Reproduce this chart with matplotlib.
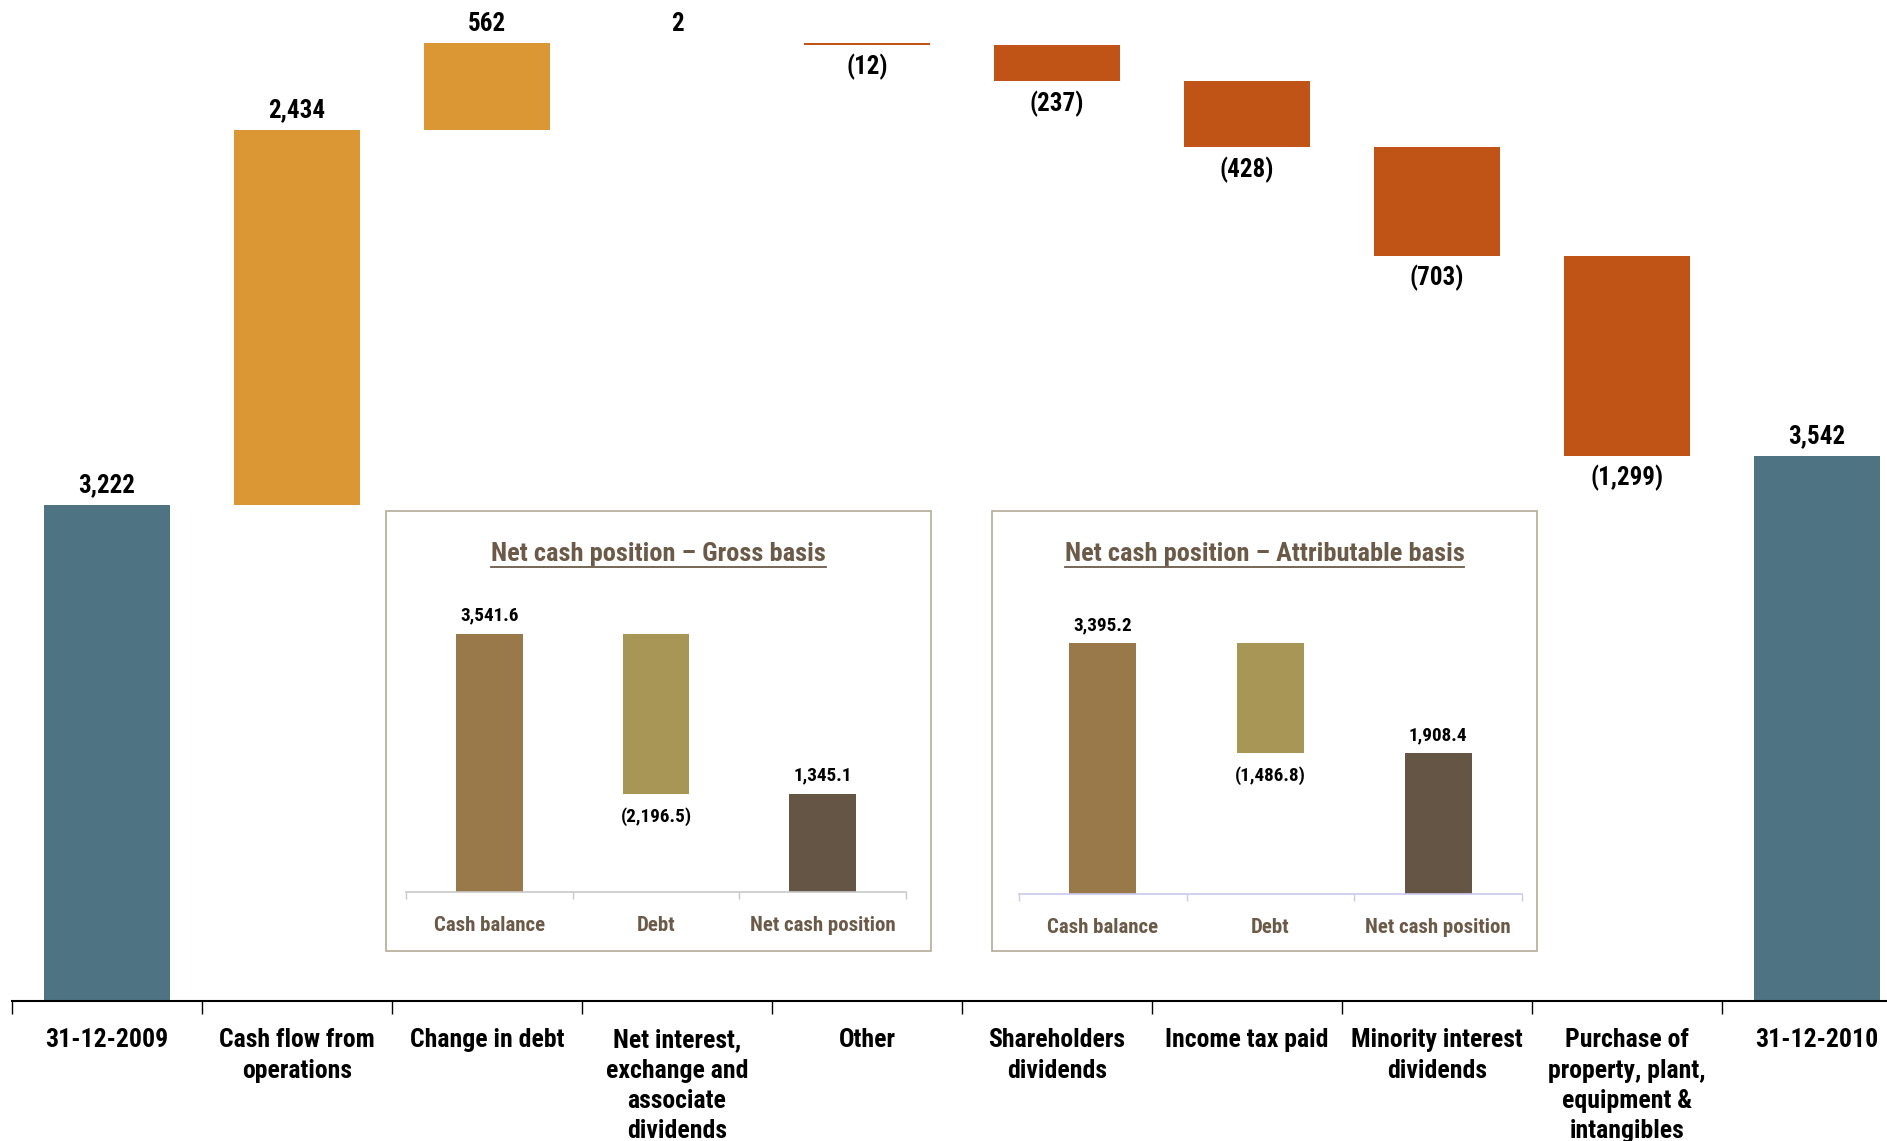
import matplotlib
matplotlib.use("Agg")
import matplotlib.pyplot as plt
from matplotlib import font_manager
from matplotlib.patches import Rectangle

# ---- data -------------------------------------------------------------
categories = [
    "31-12-2009", "Cash flow from\noperations", "Change in debt",
    "Net interest,\nexchange and\nassociate\ndividends", "Other",
    "Shareholders\ndividends", "Income tax paid", "Minority interest\ndividends",
    "Purchase of\nproperty, plant,\nequipment &\nintangibles", "31-12-2010",
]
values = [3222, 2434, 562, 2, -12, -237, -428, -703, -1299, 3542]
kinds = ["total", "delta", "delta", "delta", "delta",
         "delta", "delta", "delta", "delta", "total"]

inset_cats = ["Cash balance", "Debt", "Net cash position"]
gross_values = [3541.6, -2196.5, 1345.1]
attrib_values = [3395.2, -1486.8, 1908.4]
gross_title = "Net cash position \u2013 Gross basis"
attrib_title = "Net cash position \u2013 Attributable basis"

# ---- font: prefer a narrow bold face ----------------------------------
entries = font_manager.fontManager.ttflist
names = {f.name for f in entries}
family = None
stretch = "normal"
for cand in ["Liberation Sans Narrow", "Roboto Condensed", "Open Sans Condensed",
             "Noto Sans Condensed", "DejaVu Sans Condensed", "Arial Narrow"]:
    if cand in names:
        family = cand
        break
if family is None:
    for f in entries:
        if str(f.stretch) in ("condensed", "semi-condensed", "extra-condensed") or \
                (isinstance(f.stretch, int) and f.stretch < 500):
            family, stretch = f.name, "condensed"
            break
narrow = family is not None
if family is None:
    family = "Roboto" if "Roboto" in names else "DejaVu Sans"

plt.rcParams["font.family"] = [family, "DejaVu Sans"]
plt.rcParams["font.weight"] = "bold"
plt.rcParams["font.stretch"] = stretch

# sizes tuned to the face that was found
k = 1.0 if narrow else 0.86
FS_MAIN = 18 * k
FS_TICK = 18.5 * k
FS_INSET = 13.8 * k
FS_ITICK = 15 * k
FS_ITITLE = 19 * k

C_TOTAL = "#4E7383"
C_POS = "#DB9733"
C_NEG = "#C05416"
C_INSET = ["#99784A", "#A89657", "#645544"]
C_INSET_TEXT = "#6B5A48"

W, H = 1887, 1141
fig = plt.figure(figsize=(W / 100, H / 100), dpi=100)


def fx(px):
    return px / W


def fy(px_from_top):
    return 1 - px_from_top / H


def fmt(v, dec=0):
    s = f"{abs(v):,.{dec}f}"
    return f"({s})" if v < 0 else s


# ---- main waterfall ---------------------------------------------------
ax = fig.add_axes([fx(12), fy(1001), fx(1900), 1001 / H])
ax.set_xlim(-0.5, 9.5)
ax.set_ylim(0, 6500)

running = 0
for i, (v, kind) in enumerate(zip(values, kinds)):
    if kind == "total":
        bottom, height, color = 0, v, C_TOTAL
        running = v
    else:
        if v >= 0:
            bottom, height, color = running, v, C_POS
        else:
            bottom, height, color = running + v, -v, C_NEG
        running += v
    ax.bar(i, height, bottom=bottom, width=0.66, color=color, linewidth=0)
    if v >= 0:
        ax.annotate(fmt(v), (i, bottom + height), xytext=(0, 14), textcoords="offset points",
                    ha="center", va="center", fontsize=FS_MAIN, fontweight="bold", color="black")
    else:
        ax.annotate(fmt(v), (i, bottom), xytext=(0, -16), textcoords="offset points",
                    ha="center", va="center", fontsize=FS_MAIN, fontweight="bold", color="black")

for s in ["top", "right", "left"]:
    ax.spines[s].set_visible(False)
ax.spines["bottom"].set_linewidth(1.5)
ax.set_yticks([])
ax.set_xticks(range(len(categories)))
ax.set_xticklabels(categories, fontsize=FS_TICK, fontweight="bold", linespacing=1.34, va="top")
ax.tick_params(axis="x", which="major", length=0, pad=19.5)
ax.set_xticks([i - 0.5 for i in range(len(categories) + 1)], minor=True)
ax.tick_params(axis="x", which="minor", length=9, width=1, direction="out")
ax.patch.set_alpha(0)


# ---- inset panels -----------------------------------------------------
def draw_inset(box, axis_span, baseline, scale, title, vals, axis_color):
    bx0, by0, bx1, by1 = box
    fig.patches.append(Rectangle((fx(bx0), fy(by1)), fx(bx1 - bx0), (by1 - by0) / H,
                                 transform=fig.transFigure, facecolor="white",
                                 edgecolor="#B5AC96", linewidth=1.2, zorder=2))
    ax0, ax1 = axis_span
    ylim_top = 5000
    hpx = ylim_top * scale
    iax = fig.add_axes([fx(ax0), fy(baseline), fx(ax1 - ax0), hpx / H], zorder=3)
    iax.patch.set_alpha(0)
    iax.set_xlim(-0.5, 2.5)
    iax.set_ylim(0, ylim_top)
    start, debt, net = vals
    iax.bar(0, start, width=0.4, color=C_INSET[0], linewidth=0)
    iax.bar(1, -debt, bottom=net, width=0.4, color=C_INSET[1], linewidth=0)
    iax.bar(2, net, width=0.4, color=C_INSET[2], linewidth=0)
    iax.annotate(fmt(start, 1), (0, start), xytext=(0, 13), textcoords="offset points",
                 ha="center", va="center", fontsize=FS_INSET, fontweight="bold")
    iax.annotate(fmt(debt, 1), (1, net), xytext=(0, -16), textcoords="offset points",
                 ha="center", va="center", fontsize=FS_INSET, fontweight="bold")
    iax.annotate(fmt(net, 1), (2, net), xytext=(0, 13), textcoords="offset points",
                 ha="center", va="center", fontsize=FS_INSET, fontweight="bold")
    for s in ["top", "right", "left"]:
        iax.spines[s].set_visible(False)
    iax.spines["bottom"].set_color(axis_color)
    iax.spines["bottom"].set_linewidth(1.2)
    iax.set_yticks([])
    iax.set_xticks(range(3))
    iax.set_xticklabels(inset_cats, fontsize=FS_ITICK, fontweight="bold", color=C_INSET_TEXT)
    iax.tick_params(axis="x", which="major", length=0, pad=17)
    iax.set_xticks([-0.5, 0.5, 1.5, 2.5], minor=True)
    iax.tick_params(axis="x", which="minor", length=5, width=1, color=axis_color)
    t = fig.text(fx((bx0 + bx1) / 2), fy(by0 + 43), title, ha="center", va="center",
                 fontsize=FS_ITITLE, fontweight="bold", color=C_INSET_TEXT, zorder=4)
    # underline of the panel title
    fig.canvas.draw()
    bb = t.get_window_extent()
    fig.add_artist(plt.Line2D([bb.x0 / W, bb.x1 / W], [(bb.y0 - 1) / H] * 2,
                              transform=fig.transFigure, color=C_INSET_TEXT,
                              linewidth=1.3, zorder=4))


draw_inset((386, 511, 931, 951), (406, 906), 892, 0.0729, gross_title,
           gross_values, "#C8C8C8")
draw_inset((992, 511, 1537, 951), (1019, 1522), 894, 0.0739, attrib_title,
           attrib_values, "#C9C9EE")

fig.savefig("out.png", dpi=100, facecolor="white")
